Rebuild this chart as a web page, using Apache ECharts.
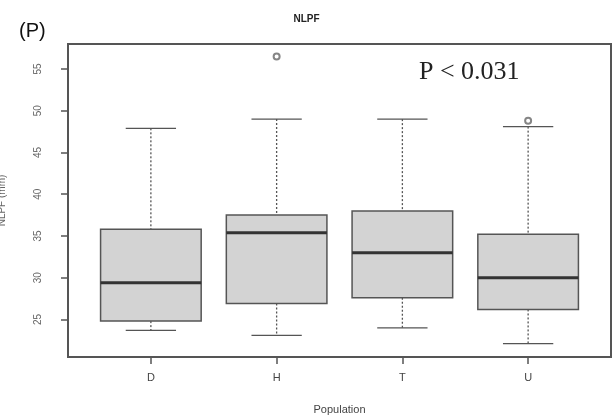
<!DOCTYPE html>
<html>
<head>
<meta charset="utf-8">
<script src="https://cdn.jsdelivr.net/npm/echarts@6/dist/echarts.min.js"></script>
<style>html,body{margin:0;padding:0;background:#fff;}#c{width:613px;height:416px;}</style>
</head>
<body>
<div id="c"></div>
<script>
const categories = ['D', 'H', 'T', 'U'];
const lowerWhisker = [23.7, 23.1, 24.0, 22.1];
const q1 = [24.8, 26.9, 27.6, 26.2];
const median = [29.4, 35.4, 33.0, 30.0];
const q3 = [35.8, 37.5, 38.0, 35.2];
const upperWhisker = [47.9, 49.0, 49.0, 48.1];
const outliers = [['H', 56.5], ['U', 48.8]];
const yTicks = [25, 30, 35, 40, 45, 50, 55];
const yMin = 20.5, yMax = 58.0;

const boxData = categories.map((c, i) => [c, lowerWhisker[i], q1[i], median[i], q3[i], upperWhisker[i]]);

const chart = echarts.init(document.getElementById('c'));
const axisColor = '#555';
chart.setOption({
  animation: false,
  backgroundColor: '#fff',
  title: [
    { text: '(P)', left: 14, top: 16, textStyle: { fontFamily: 'Liberation Sans', fontSize: 20, fontWeight: 'normal', color: '#111' } },
    { text: 'NLPF', left: 'center', top: 9, textStyle: { fontFamily: 'Liberation Sans', fontSize: 10, fontWeight: 'bold', color: '#222' } },
    { text: 'P < 0.031', left: 414, top: 54, textStyle: { fontFamily: 'Liberation Serif', fontSize: 26, fontWeight: 'normal', color: '#222' } }
  ],
  grid: [
    { left: 68, right: 2, top: 44, bottom: 59, outerBoundsMode: 'none', containLabel: false, show: true, borderColor: axisColor, borderWidth: 2, backgroundColor: 'transparent' },
    { left: 88, right: 22, top: 44, bottom: 59, outerBoundsMode: 'none', containLabel: false }
  ],
  xAxis: [
    { gridIndex: 0, type: 'value', min: 0, max: 1, show: false },
    { gridIndex: 1, type: 'category', data: categories, boundaryGap: true,
      name: 'Population', nameLocation: 'middle', nameGap: 47,
      nameTextStyle: { fontFamily: 'Liberation Sans', fontSize: 11, color: '#444' },
      axisLine: { show: false },
      axisTick: { show: true, alignWithLabel: true, length: 7, lineStyle: { color: axisColor, width: 1.5 } },
      axisLabel: { margin: 15, fontFamily: 'Liberation Sans', fontSize: 11, color: '#444' },
      splitLine: { show: false } }
  ],
  yAxis: [
    { gridIndex: 0, type: 'value', min: yMin, max: yMax,
      name: 'NLPF (mm)', nameLocation: 'middle', nameGap: 61, nameRotate: 90,
      nameTextStyle: { fontFamily: 'Liberation Sans', fontSize: 10, color: '#666' },
      axisLine: { show: false },
      axisTick: { show: true, length: 7, customValues: yTicks, lineStyle: { color: axisColor, width: 1.5 } },
      axisLabel: { customValues: yTicks, rotate: 90, margin: 25, fontFamily: 'Liberation Sans', fontSize: 10, color: '#666' },
      splitLine: { show: false } },
    { gridIndex: 1, type: 'value', min: yMin, max: yMax, show: false, splitLine: { show: false } }
  ],
  series: [
    {
      type: 'custom', xAxisIndex: 1, yAxisIndex: 1,
      encode: { x: 0, y: [1, 2, 3, 4, 5] },
      data: boxData,
      renderItem: function (params, api) {
        const x = api.value(0);
        const band = api.size([1, 0])[0];
        const bw = band * 0.8, cap = bw * 0.5;
        const pLo = api.coord([x, api.value(1)]);
        const pQ1 = api.coord([x, api.value(2)]);
        const pMed = api.coord([x, api.value(3)]);
        const pQ3 = api.coord([x, api.value(4)]);
        const pHi = api.coord([x, api.value(5)]);
        const cx = pMed[0];
        const dash = { stroke: axisColor, lineWidth: 1.3, lineDash: [2, 2], fill: null };
        const solid = { stroke: axisColor, lineWidth: 1.3, fill: null };
        return { type: 'group', children: [
          { type: 'line', shape: { x1: cx, y1: pHi[1], x2: cx, y2: pQ3[1] }, style: dash },
          { type: 'line', shape: { x1: cx, y1: pQ1[1], x2: cx, y2: pLo[1] }, style: dash },
          { type: 'line', shape: { x1: cx - cap / 2, y1: pHi[1], x2: cx + cap / 2, y2: pHi[1] }, style: solid },
          { type: 'line', shape: { x1: cx - cap / 2, y1: pLo[1], x2: cx + cap / 2, y2: pLo[1] }, style: solid },
          { type: 'rect', shape: { x: cx - bw / 2, y: pQ3[1], width: bw, height: pQ1[1] - pQ3[1] },
            style: { fill: '#d3d3d3', stroke: axisColor, lineWidth: 1.5 } },
          { type: 'line', shape: { x1: cx - bw / 2, y1: pMed[1], x2: cx + bw / 2, y2: pMed[1] },
            style: { stroke: '#333', lineWidth: 3 } }
        ] };
      }
    },
    {
      type: 'scatter', xAxisIndex: 1, yAxisIndex: 1,
      data: outliers, symbol: 'emptyCircle', symbolSize: 6,
      itemStyle: { color: '#666', borderColor: '#666', borderWidth: 1 }
    }
  ]
});
</script>
</body>
</html>
